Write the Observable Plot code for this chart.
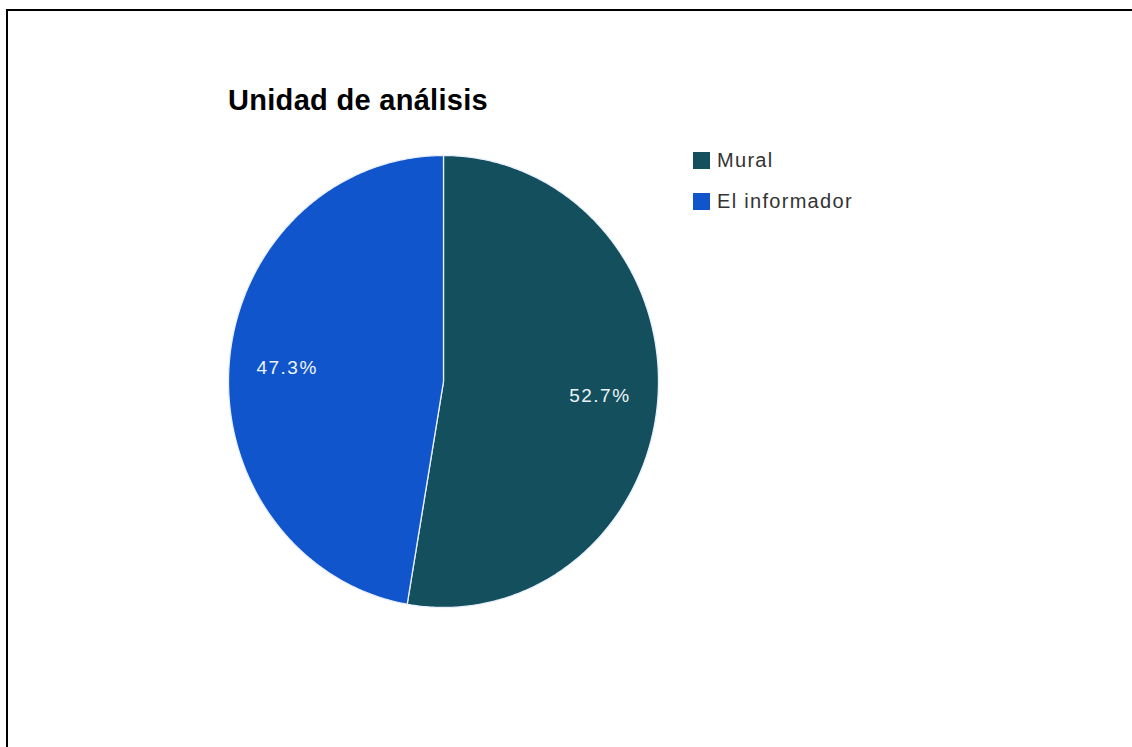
<!DOCTYPE html>
<html>
<head>
<meta charset="utf-8">
<script src="https://cdn.jsdelivr.net/npm/d3@7"></script>
<script src="https://cdn.jsdelivr.net/npm/@observablehq/plot@0.6"></script>
<style>
  html, body { margin: 0; padding: 0; background: #fff; overflow: hidden; }
  body { width: 1132px; height: 747px; position: relative; font-family: "Liberation Sans", Arial, sans-serif; }
  #frame { position: absolute; left: 6px; top: 9px; width: 1200px; height: 800px; border-left: 2px solid #000; border-top: 2px solid #000; }
  #chart { position: absolute; left: 0; top: 0; }
  #chart text { letter-spacing: 1.5px; }
  #title { position: absolute; left: 228px; top: 84px; font-size: 29px; font-weight: bold; letter-spacing: 0.3px; color: #000; white-space: nowrap; }
  #legend { position: absolute; left: 693px; top: 151px; font-size: 20px; letter-spacing: 1.3px; color: #333; }
  .item { display: flex; align-items: center; height: 19px; margin-bottom: 22px; white-space: nowrap; }
  .sw { width: 17px; height: 17px; margin-right: 7px; }
</style>
</head>
<body>
<div id="frame"></div>
<div id="chart"></div>
<div id="title">Unidad de análisis</div>
<div id="legend"></div>
<script>
const categories = ["Mural", "El informador"];
const values = [52.7, 47.3];
const labels = ["52.7%", "47.3%"];
const colors = ["#134f5c", "#1155cc"];

const total = d3.sum(values);
// slice outlines: start at 12 o'clock, clockwise
const slices = [];
let acc = 0;
categories.forEach((name, i) => {
  const s = acc / total, e = (acc + values[i]) / total;
  const pts = [{name, x: 0, y: 0}];
  const n = 300;
  for (let k = 0; k <= n; k++) {
    const a = 2 * Math.PI * (s + (e - s) * k / n);
    pts.push({name, x: Math.sin(a), y: Math.cos(a)});
  }
  pts.push({name, x: 0, y: 0});
  const mid = 2 * Math.PI * (s + e) / 2;
  slices.push({name, pts, label: labels[i], lx: 0.73 * Math.sin(mid), ly: 0.73 * Math.cos(mid), color: colors[i]});
  acc += values[i];
});

const marks = slices.map(sl => Plot.line(sl.pts, {x: "x", y: "y", fill: sl.color, stroke: "#e8f0ff", strokeWidth: 1.3, curve: "linear"}));
marks.push(Plot.text(slices, {x: "lx", y: "ly", text: "label", fill: "#eef4fa", fontSize: 19, fontFamily: "Liberation Sans, Arial, sans-serif", textAnchor: "middle"}));

const chart = Plot.plot({
  width: 1132,
  height: 747,
  margin: 0,
  x: {domain: [-1, 1], range: [228, 658], axis: null},
  y: {domain: [-1, 1], range: [607, 155], axis: null},
  style: {background: "transparent"},
  marks
});
document.getElementById("chart").appendChild(chart);

const legend = document.getElementById("legend");
categories.forEach((c, i) => {
  const it = document.createElement("div");
  it.className = "item";
  it.innerHTML = `<div class="sw" style="background:${colors[i]}"></div><span>${c}</span>`;
  legend.appendChild(it);
});
</script>
</body>
</html>
